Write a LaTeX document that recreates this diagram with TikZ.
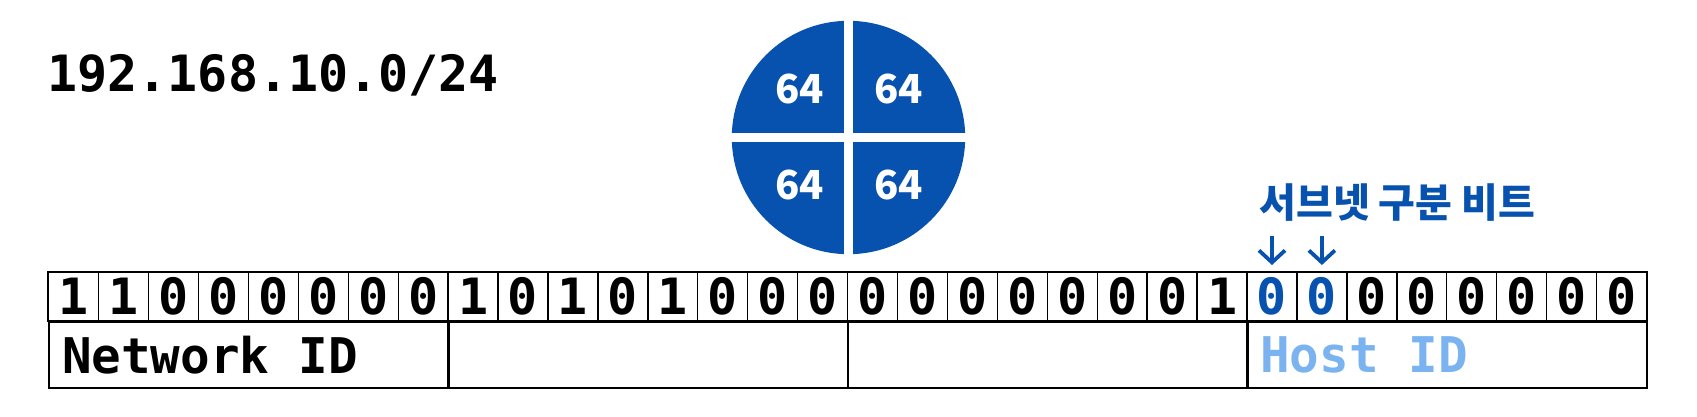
\documentclass[tikz,border=0pt]{standalone}
\usepackage{fontspec}
\setmonofont{DejaVu Sans Mono}
\newfontfamily\hangul{Noto Sans CJK KR}
\usepackage{tikz}
\usetikzlibrary{arrows.meta,positioning}
\definecolor{subblue}{RGB}{7,81,175}
\definecolor{hostblue}{RGB}{122,179,240}
\newcommand{\monosp}{\hspace{0.602em}}
\tikzset
{
    bitcell/.style   = {draw=black, line width=0.7pt, minimum width=24.965pt, minimum height=24pt, inner sep=0pt, font=\ttfamily\bfseries\fontsize{25}{25}\selectfont},
    idcell/.style    = {draw=black, line width=1pt, anchor=north west, minimum width=199.72pt, minimum height=32.85pt, text width=187pt, align=left, inner xsep=6.5pt, font=\ttfamily\bfseries\fontsize{24.6}{26}\selectfont},
    quarter/.style   = {text=white, font=\hangul\bfseries\fontsize{20}{20}\selectfont},
    gap/.style       = {draw=white, line width=4.6pt},
    subarrow/.style  = {draw=subblue, line width=1.9pt, -{Straight Barb[length=6pt, width=13pt]}, shorten >=3.5pt}
}
\begin{document}
\begin{tikzpicture}[x=0.5pt, y=-0.5pt]
    \useasboundingbox (0,0) rectangle (1697,417);
    % network address
    \node [anchor=base west, inner sep=0pt, font=\ttfamily\bfseries\fontsize{25}{26}\selectfont] (addr) at (47,92) {192.168.10.0/24};
    % four subnets
    \node [circle, fill=subblue, minimum size=116.7pt, inner sep=0pt] (pie) at (848.5,137.5) {};
    \draw [gap] ([yshift=2pt]pie.north) -- ([yshift=-2pt]pie.south);
    \draw [gap] ([xshift=-2pt]pie.west) -- ([xshift=2pt]pie.east);
    \node [quarter] (q1) at ([shift={(-49,-49)}]pie.center) {64};
    \node [quarter] (q2) at ([shift={(50,-49)}]pie.center) {64};
    \node [quarter] (q3) at ([shift={(-49,47)}]pie.center) {64};
    \node [quarter] (q4) at ([shift={(50,47)}]pie.center) {64};
    % bits
    \foreach \b [count=\i] in {1,1,0,0,0,0,0,0, 1,0,1,0,1,0,0,0, 0,0,0,0,0,0,0,1, 0,0,0,0,0,0,0,0}
    {
        \ifnum\i=25 \def\c{subblue}\else\ifnum\i=26 \def\c{subblue}\else\def\c{black}\fi\fi
        \node [bitcell, text=\c] (b\i) at ({48.7+(\i-0.5)*49.93},296.7) {\b};
    }
    \draw [line width=1pt] (b1.north west) rectangle (b32.south east);
    % id row
    \node [idcell] (net) at (b1.south west) {Network\monosp ID};
    \node [idcell] (mid1) at (b9.south west) {};
    \node [idcell] (mid2) at (b17.south west) {};
    \node [idcell, text=hostblue] (host) at (b25.south west) {Host\monosp ID};
    % subnet bits
    \node [anchor=base west, inner sep=0pt, text=subblue, font=\hangul\bfseries\fontsize{20}{20}\selectfont] (sublabel) at (1259,217) {서브넷 구분 비트};
    \coordinate (t25) at ([yshift=18pt]b25.north);
    \coordinate (t26) at ([yshift=18pt]b26.north);
    \draw [subarrow] (t25) -- (b25);
    \draw [subarrow] (t26) -- (b26);
\end{tikzpicture}
\end{document}
